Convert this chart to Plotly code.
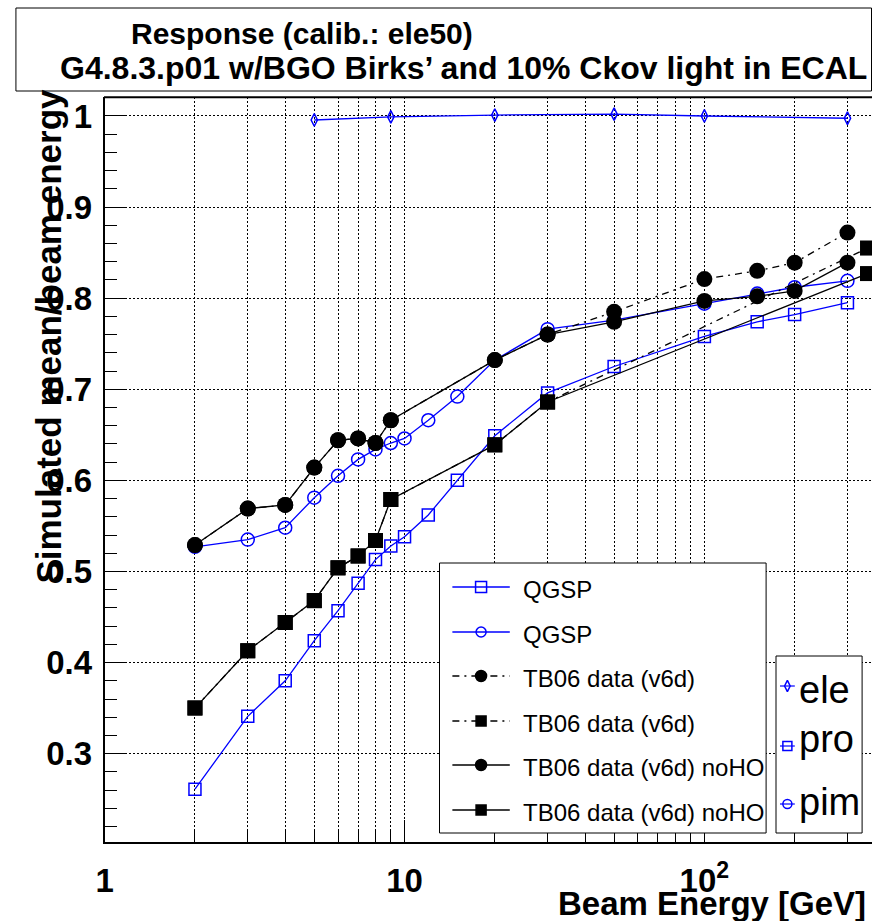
import plotly.graph_objects as go

# ---------------- data ----------------
energy_ele = [5, 9, 20, 50, 100, 300]
resp_ele = [0.9956, 0.999, 1.001, 1.002, 1.000, 0.9975]

energy_qgsp = [2, 3, 4, 5, 6, 7, 8, 9, 10, 12, 15, 20, 30, 50, 100, 150, 200, 300]
resp_pro_qgsp = [0.261, 0.341, 0.380, 0.424, 0.457, 0.487, 0.513, 0.528, 0.538, 0.562,
                 0.600, 0.649, 0.696, 0.725, 0.758, 0.774, 0.782, 0.795]
resp_pim_qgsp = [0.527, 0.535, 0.548, 0.581, 0.605, 0.623, 0.634, 0.641, 0.646, 0.666,
                 0.692, 0.732, 0.766, 0.776, 0.794, 0.805, 0.812, 0.819]

energy_data_pi = [2, 3, 4, 5, 6, 7, 8, 9, 20, 30, 50, 100, 150, 200, 300]
resp_pi_v6d = [0.529, 0.569, 0.573, 0.614, 0.644, 0.646, 0.641, 0.666, 0.732, 0.760,
               0.785, 0.821, 0.830, 0.839, 0.872]
resp_pi_v6d_noHO = [0.529, 0.569, 0.573, 0.614, 0.644, 0.646, 0.641, 0.666, 0.732, 0.760,
                    0.774, 0.797, 0.802, 0.808, 0.839]

energy_data_p = [2, 3, 4, 5, 6, 7, 8, 9, 20, 30, 350]
resp_p_v6d = [0.350, 0.413, 0.444, 0.468, 0.504, 0.517, 0.534, 0.579, 0.639, 0.686, 0.855]
resp_p_v6d_noHO = [0.350, 0.413, 0.444, 0.468, 0.504, 0.517, 0.534, 0.579, 0.639, 0.686, 0.827]

x_tickvals = [1, 10, 100]
x_ticktext = ["1", "10", "10<sup>2</sup>"]
x_minorvals = [2, 3, 4, 5, 6, 7, 8, 9, 20, 30, 40, 50, 60, 70, 80, 90, 200, 300]
y_tickvals = [0.3, 0.4, 0.5, 0.6, 0.7, 0.8, 0.9, 1.0]
y_ticktext = ["0.3", "0.4", "0.5", "0.6", "0.7", "0.8", "0.9", "1"]

legend_main_labels = ["QGSP", "QGSP", "TB06 data (v6d)", "TB06 data (v6d)",
                      "TB06 data (v6d) noHO", "TB06 data (v6d) noHO"]
legend_part_labels = ["ele", "pro", "pim"]

# ---------------- style / layout helpers ----------------
W, H = 872, 921
FONT = "Liberation Sans, Arial, Helvetica, sans-serif"
BLUE = "#0000ff"
DASHDOT = "7px,5px,2px,5px"
GRIDDASH = "2px,2px"


def px(x):
    return x / W


def py(y):
    return 1 - y / H


fig = go.Figure()

# ---------------- data traces ----------------
fig.add_trace(go.Scatter(
    x=energy_ele, y=resp_ele, mode="lines+markers",
    line=dict(color=BLUE, width=1.3),
    marker=dict(symbol="diamond-tall-open", size=9, color=BLUE, line=dict(color=BLUE, width=1.5))))
fig.add_trace(go.Scatter(
    x=energy_qgsp, y=resp_pro_qgsp, mode="lines+markers",
    line=dict(color=BLUE, width=1.3),
    marker=dict(symbol="square-open", size=12, color=BLUE, line=dict(color=BLUE, width=1.5))))
fig.add_trace(go.Scatter(
    x=energy_qgsp, y=resp_pim_qgsp, mode="lines+markers",
    line=dict(color=BLUE, width=1.3),
    marker=dict(symbol="circle-open", size=13, color=BLUE, line=dict(color=BLUE, width=1.5))))
fig.add_trace(go.Scatter(
    x=energy_data_pi, y=resp_pi_v6d, mode="lines+markers",
    line=dict(color="black", width=1.3, dash=DASHDOT),
    marker=dict(symbol="circle", size=16, color="black")))
fig.add_trace(go.Scatter(
    x=energy_data_p, y=resp_p_v6d, mode="lines+markers",
    line=dict(color="black", width=1.3, dash=DASHDOT),
    marker=dict(symbol="square", size=15, color="black")))
fig.add_trace(go.Scatter(
    x=energy_data_pi, y=resp_pi_v6d_noHO, mode="lines+markers",
    line=dict(color="black", width=1.3),
    marker=dict(symbol="circle", size=16, color="black")))
fig.add_trace(go.Scatter(
    x=energy_data_p, y=resp_p_v6d_noHO, mode="lines+markers",
    line=dict(color="black", width=1.3),
    marker=dict(symbol="square", size=15, color="black")))

# ---------------- legend boxes (overlay pixel axes) ----------------


def box(x0, y0, x1, y1):
    fig.add_trace(go.Scatter(
        x=[x0, x1, x1, x0, x0], y=[y0, y0, y1, y1, y0], mode="lines",
        fill="toself", fillcolor="white", line=dict(color="black", width=1),
        xaxis="x2", yaxis="y2", hoverinfo="skip"))


def sample(xa, xb, xm, y, lcolor, dash, symbol, msize, mcolor, lw=1.3):
    fig.add_trace(go.Scatter(
        x=[xa, xb], y=[y, y], mode="lines",
        line=dict(color=lcolor, width=lw, dash=dash),
        xaxis="x2", yaxis="y2", hoverinfo="skip"))
    fig.add_trace(go.Scatter(
        x=[xm], y=[y], mode="markers",
        marker=dict(symbol=symbol, size=msize, color=mcolor, line=dict(color=mcolor, width=1.5)),
        xaxis="x2", yaxis="y2", hoverinfo="skip"))


box(435, 563, 765, 833)
box(775, 656, 862, 833)

main_rows = [587, 632, 676, 721, 765, 810]
main_styles = [
    (BLUE, "solid", "square-open", 11, BLUE),
    (BLUE, "solid", "circle-open", 10, BLUE),
    ("black", DASHDOT, "circle", 11, "black"),
    ("black", DASHDOT, "square", 10, "black"),
    ("black", "solid", "circle", 11, "black"),
    ("black", "solid", "square", 10, "black"),
]
for yy, st in zip(main_rows, main_styles):
    sample(448, 506, 477, yy, st[0], st[1], st[2], st[3], st[4])

part_rows = [686, 746, 804]
part_styles = [("diamond-tall-open", 8), ("square-open", 9), ("circle-open", 9)]
for yy, st in zip(part_rows, part_styles):
    sample(779, 794, 786.5, yy, BLUE, "solid", st[0], st[1], BLUE, lw=1.2)

annotations = []
for yy, lab in zip(main_rows, legend_main_labels):
    annotations.append(dict(x=px(517), y=py(yy + 2), xref="paper", yref="paper",
                            xanchor="left", yanchor="middle", text=lab, showarrow=False,
                            font=dict(family=FONT, size=24, color="black")))
for yy, lab in zip([690, 739, 802], legend_part_labels):
    annotations.append(dict(x=px(796), y=py(yy), xref="paper", yref="paper",
                            xanchor="left", yanchor="middle", text=lab, showarrow=False,
                            font=dict(family=FONT, size=38, color="black")))

# titles
annotations.append(dict(x=px(296), y=py(33), xref="paper", yref="paper",
                        xanchor="center", yanchor="middle", showarrow=False,
                        text="Response (calib.: ele50)",
                        font=dict(family=FONT, size=30, color="black", weight="bold")))
annotations.append(dict(x=px(459), y=py(68), xref="paper", yref="paper",
                        xanchor="center", yanchor="middle", showarrow=False,
                        text="G4.8.3.p01 w/BGO Birks\u2019 and 10% Ckov light in ECAL",
                        font=dict(family=FONT, size=32, color="black", weight="bold")))
annotations.append(dict(x=px(40), y=py(336), xref="paper", yref="paper",
                        xanchor="center", yanchor="middle", showarrow=False, textangle=-90,
                        text="Simulated mean/beam energy",
                        font=dict(family=FONT, size=35, color="black", weight="bold")))
annotations.append(dict(x=px(868), y=py(903), xref="paper", yref="paper",
                        xanchor="right", yanchor="middle", showarrow=False,
                        text="Beam Energy [GeV]",
                        font=dict(family=FONT, size=33, color="black", weight="bold")))

shapes = [
    dict(type="rect", xref="paper", yref="paper", x0=px(7), y0=py(8), x1=px(871.5), y1=py(91),
         line=dict(color="black", width=1), fillcolor="rgba(0,0,0,0)"),
    dict(type="line", xref="paper", yref="paper", x0=px(96), y0=py(97.3), x1=1.0, y1=py(97.3),
         line=dict(color="black", width=2)),
]

fig.update_layout(
    width=W, height=H, autosize=False,
    margin=dict(l=0, r=0, t=0, b=0, pad=0),
    paper_bgcolor="white", plot_bgcolor="rgba(0,0,0,0)",
    showlegend=False,
    annotations=annotations, shapes=shapes,
    xaxis=dict(
        type="log", range=[0, 2.559], domain=[px(96.7), 1.0], anchor="y",
        showline=True, linecolor="black", linewidth=2, mirror=False,
        ticks="inside", ticklen=22, tickwidth=1, tickcolor="black",
        tickmode="array", tickvals=x_tickvals, ticktext=x_ticktext,
        tickfont=dict(family=FONT, size=33, color="black", weight="bold"),
        ticklabelstandoff=8,
        showgrid=True, gridcolor="black", gridwidth=1, griddash=GRIDDASH,
        zeroline=False,
        minor=dict(tickmode="array", tickvals=x_minorvals,
                   ticks="inside", ticklen=11, tickwidth=1, tickcolor="black",
                   showgrid=True, gridcolor="black", gridwidth=1, griddash=GRIDDASH),
    ),
    yaxis=dict(
        range=[0.2027, 1.0205], domain=[py(842.3), py(97.3)], anchor="x",
        showline=True, linecolor="black", linewidth=2, mirror=False,
        ticks="inside", ticklen=22, tickwidth=1, tickcolor="black",
        tickmode="array", tickvals=y_tickvals, ticktext=y_ticktext,
        tickfont=dict(family=FONT, size=33, color="black", weight="bold"),
        ticklabelstandoff=4,
        showgrid=True, gridcolor="black", gridwidth=1, griddash=GRIDDASH,
        zeroline=False,
        minor=dict(dtick=0.02, tick0=0, ticks="inside", ticklen=12, tickwidth=1,
                   tickcolor="black", showgrid=False),
    ),
    xaxis2=dict(domain=[0, 1], range=[0, W], anchor="y2", visible=False, fixedrange=True),
    yaxis2=dict(domain=[0, 1], range=[H, 0], anchor="x2", visible=False, fixedrange=True),
)

POST = (
    "document.documentElement.style.margin='0';"
    "document.documentElement.style.padding='0';"
    "document.documentElement.style.overflow='hidden';"
    "document.body.style.margin='0';"
    "document.body.style.padding='0';"
    "document.body.style.overflow='hidden';"
    "var d=document.getElementById('{plot_id}');"
    "d.style.position='absolute';d.style.left='0px';d.style.top='0px';"
)

fig.write_html("out.html", config={"displayModeBar": False}, post_script=POST)
